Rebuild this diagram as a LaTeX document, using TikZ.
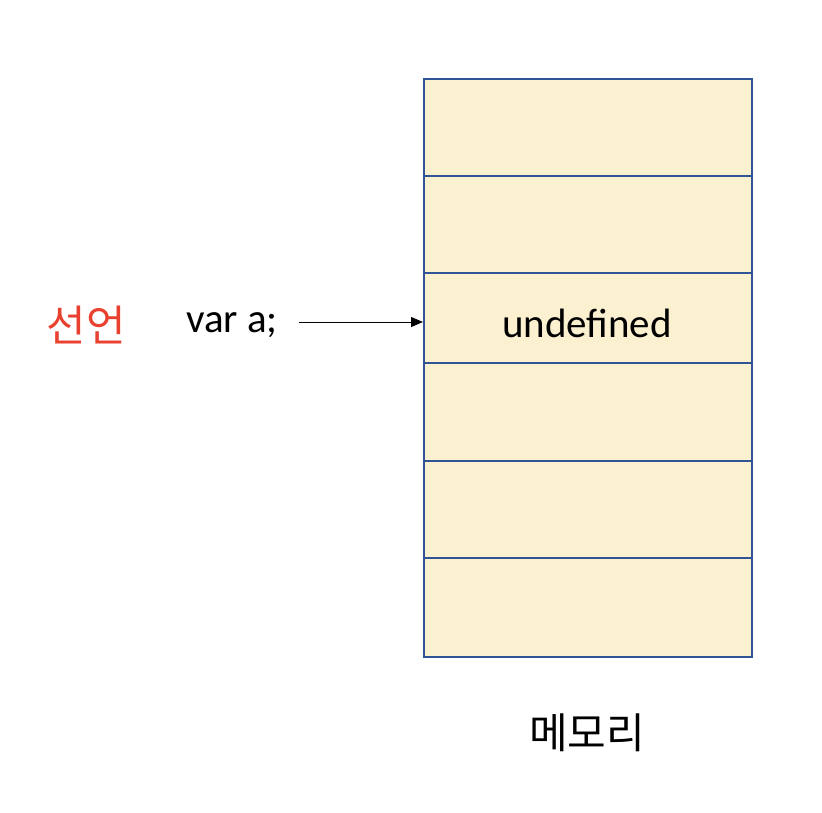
\documentclass[tikz,border=0pt]{standalone}
\usepackage{fontspec}
\setmainfont{Carlito}
\newfontfamily\kr{Noto Sans CJK KR}
\usetikzlibrary{arrows.meta}
\definecolor{cellfill}{HTML}{FBF0D0}
\definecolor{celledge}{HTML}{2F5597}
\definecolor{declred}{HTML}{E8412F}
\begin{document}
\begin{tikzpicture}[x=1pt,y=-1pt,
  cell/.style={draw=celledge,fill=cellfill,line width=1.8pt,inner sep=0pt,anchor=north west},
  lbl/.style={inner sep=0pt,font=\fontsize{41}{48}\selectfont},
  krl/.style={inner sep=0pt,font=\kr\fontsize{42}{48}\selectfont}]
\useasboundingbox (0,0) rectangle (822,812);
\foreach \i/\t/\b in {1/78/175,2/175/272,3/272/362,4/362/460,5/460/557,6/557/656}{
  \node[cell,minimum width=328pt,minimum height={(\b-\t)*1pt}] (c\i) at (423,\t) {};
}
\node[lbl] (undef) at (587,323) {undefined};
\node[lbl] (var) at (232,325) {var a;};
\node[krl,text=declred,font=\kr\fontsize{43}{48}\selectfont] (decl) at (86,325) {선언};
\node[krl] (mem) at (587,733) {메모리};
\coordinate (arrstart) at (299,322);
\draw[line width=1pt,-{Triangle[length=12pt,width=10pt]}] (arrstart) -- (c3.west |- arrstart);
\end{tikzpicture}
\end{document}
